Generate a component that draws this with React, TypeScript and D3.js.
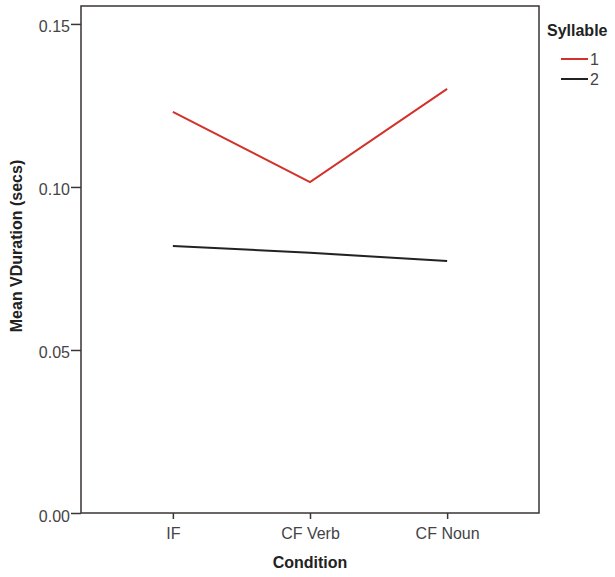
import React, { useEffect, useRef } from "react";
import * as d3 from "d3";

const conditions = ["IF", "CF Verb", "CF Noun"];
const syllable1 = [0.123, 0.1015, 0.1301];
const syllable2 = [0.0819, 0.0798, 0.0773];
const yTicks = [0, 0.05, 0.1, 0.15];
const seriesNames = ["1", "2"];
const seriesColors = ["#d2322b", "#222222"];

export default function App() {
  const ref = useRef<SVGSVGElement | null>(null);

  useEffect(() => {
    const svg = d3.select(ref.current);
    svg.selectAll("*").remove();
    const left = 81, right = 539, top = 6, bottom = 513;
    const x = d3.scalePoint<string>().domain(conditions).range([left, right]).padding(0.67);
    const y = d3.scaleLinear().domain([0, 0.1555]).range([bottom, top]);
    const font = "'Liberation Sans', Arial, sans-serif";

    svg.append("rect").attr("width", 615).attr("height", 577).attr("fill", "#ffffff");

    // frame
    svg.append("rect")
      .attr("x", left).attr("y", top)
      .attr("width", right - left).attr("height", bottom - top)
      .attr("fill", "none").attr("stroke", "#3a3434").attr("stroke-width", 1.5);

    const yAxis = svg.append("g").attr("transform", `translate(${left},0)`)
      .call(d3.axisLeft(y).tickValues(yTicks).tickFormat(d3.format(".2f")).tickSize(10).tickPadding(1));
    yAxis.select(".domain").remove();
    yAxis.selectAll("line").attr("stroke", "#3a3434").attr("stroke-width", 1.5);
    yAxis.selectAll("text").attr("font-family", font).attr("font-size", 16).attr("fill", "#444").attr("dy", "0.5em");

    const xAxis = svg.append("g").attr("transform", `translate(0,${bottom})`)
      .call(d3.axisBottom(x).tickSize(6).tickPadding(9));
    xAxis.select(".domain").remove();
    xAxis.selectAll("line").attr("stroke", "#3a3434").attr("stroke-width", 1.5);
    xAxis.selectAll("text").attr("font-family", font).attr("font-size", 16).attr("fill", "#444");

    const line = d3.line<number>().x((_, i) => x(conditions[i]) as number).y((d) => y(d));
    [syllable1, syllable2].forEach((s, i) => {
      svg.append("path").attr("d", line(s) as string).attr("fill", "none")
        .attr("stroke", seriesColors[i]).attr("stroke-width", 2);
    });

    svg.append("text").attr("x", 310).attr("y", 568).attr("text-anchor", "middle")
      .attr("font-family", font).attr("font-weight", "bold").attr("font-size", 16).attr("fill", "#222")
      .text("Condition");
    svg.append("text").attr("transform", "translate(22,246) rotate(-90)").attr("text-anchor", "middle")
      .attr("font-family", font).attr("font-weight", "bold").attr("font-size", 16).attr("fill", "#222")
      .text("Mean VDuration (secs)");

    // legend
    svg.append("text").attr("x", 547).attr("y", 36)
      .attr("font-family", font).attr("font-weight", "bold").attr("font-size", 16).attr("fill", "#222")
      .text("Syllable");
    seriesNames.forEach((n, i) => {
      const ly = 59 + i * 20;
      svg.append("line").attr("x1", 561).attr("x2", 588).attr("y1", ly).attr("y2", ly)
        .attr("stroke", seriesColors[i]).attr("stroke-width", 2);
      svg.append("text").attr("x", 590).attr("y", ly + 6)
        .attr("font-family", font).attr("font-size", 16).attr("fill", "#444").text(n);
    });
  }, []);

  return (
    <svg ref={ref} width={615} height={577}
      style={{ position: "absolute", left: 0, top: 0, display: "block" }} />
  );
}
